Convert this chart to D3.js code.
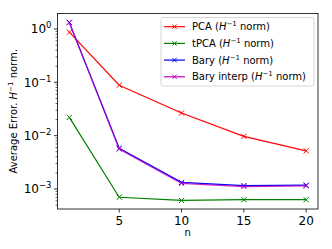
<!DOCTYPE html>
<html>
<head>
<meta charset="utf-8">
<script src="https://cdn.jsdelivr.net/npm/d3@7"></script>
<style>
body { margin: 0; background: #fff; }
svg { display: block; font-family: "DejaVu Sans", sans-serif; }
</style>
</head>
<body>
<svg id="chart" width="332" height="249"></svg>
<script>
var nVals = [1, 5, 10, 15, 20];
var pca = [0.87, 0.088, 0.0266, 0.0097, 0.0052];
var tpca = [0.022, 0.00070, 0.00061, 0.00063, 0.00063];
var bary = [1.33, 0.0058, 0.00133, 0.00116, 0.00118];
var baryInterp = [1.30, 0.0056, 0.00127, 0.00111, 0.00114];
var xTicks = [5, 10, 15, 20];
var yExps = [0, -1, -2, -3];
var seriesNames = ["PCA", "tPCA", "Bary", "Bary interp"];

var series = [
	{ name: seriesNames[0], vals: pca, color: "#ff0000", op: 1 },
	{ name: seriesNames[1], vals: tpca, color: "#008000", op: 1 },
	{ name: seriesNames[2], vals: bary, color: "#0000ff", op: 1 },
	{ name: seriesNames[3], vals: baryInterp, color: "#bf00bf", op: 0.85 },
];

var svg = d3.select("#chart");
var [ mT, mR, mB, mL ] = [ 13.5, 14, 40, 57.5 ];
var W = 332, H = 249;

var x = d3.scaleLinear([0.05, 20.95], [mL, W - mR]);
var y = d3.scaleLog([Math.pow(10, -3.375), Math.pow(10, 0.29)], [H - mB, mT]);

// minor ticks
var minors = [];
for (var e = -4; e <= 0; e++)
	for (var k = 2; k <= 9; k++) {
		var v = k * Math.pow(10, e);
		if (v >= y.domain()[0] && v <= y.domain()[1]) minors.push(v);
	}

var ax = svg.append("g");
ax.selectAll(".minor").data(minors).join("line")
	.attr("x1", mL - 2).attr("x2", mL)
	.attr("y1", d => y(d)).attr("y2", d => y(d))
	.attr("stroke", "#000").attr("stroke-width", 0.6);

ax.selectAll(".ymaj").data(yExps).join("line")
	.attr("x1", mL - 3.5).attr("x2", mL)
	.attr("y1", d => y(Math.pow(10, d))).attr("y2", d => y(Math.pow(10, d)))
	.attr("stroke", "#000").attr("stroke-width", 0.8);

var yl = ax.selectAll(".ylab").data(yExps).join("text")
	.attr("x", mL - 6).attr("y", d => y(Math.pow(10, d)) + 4.5)
	.attr("text-anchor", "end").attr("font-size", 12);
yl.append("tspan").text("10");
yl.append("tspan").attr("dy", -5).attr("font-size", 8.5).text(d => d === 0 ? "0" : "\u2212" + (-d));

ax.selectAll(".xmaj").data(xTicks).join("line")
	.attr("x1", d => x(d)).attr("x2", d => x(d))
	.attr("y1", H - mB).attr("y2", H - mB + 3.5)
	.attr("stroke", "#000").attr("stroke-width", 0.8);

ax.selectAll(".xlab").data(xTicks).join("text")
	.attr("x", d => x(d)).attr("y", H - mB + 16)
	.attr("text-anchor", "middle").attr("font-size", 12)
	.text(d => d);

svg.append("text").attr("x", (mL + W - mR) / 2).attr("y", H - 13)
	.attr("text-anchor", "middle").attr("font-size", 10).text("n");

var ylab = svg.append("text")
	.attr("transform", `translate(17, ${(mT + H - mB) / 2}) rotate(-90)`)
	.attr("text-anchor", "middle").attr("font-size", 10);
ylab.append("tspan").text("Average Error. ");
ylab.append("tspan").attr("font-style", "italic").text("H");
ylab.append("tspan").attr("dy", -4).attr("font-size", 7).text("\u22121");
ylab.append("tspan").attr("dy", 4).text(" norm.");

// lines
var line = d3.line().x((d, i) => x(nVals[i])).y(d => y(d));
var gl = svg.append("g");
series.forEach(s => {
	var g = gl.append("g").attr("opacity", s.op);
	g.append("path").attr("d", line(s.vals)).attr("fill", "none")
		.attr("stroke", s.color).attr("stroke-width", 1.2);
	g.selectAll("path.m").data(s.vals).join("path").attr("class", "m")
		.attr("d", (d, i) => {
			var cx = x(nVals[i]), cy = y(d), r = 2.6;
			return `M${cx-r},${cy-r}L${cx+r},${cy+r}M${cx-r},${cy+r}L${cx+r},${cy-r}`;
		})
		.attr("stroke", s.color).attr("stroke-width", 1);
});

// frame
svg.append("rect").attr("x", mL).attr("y", mT)
	.attr("width", W - mR - mL).attr("height", H - mB - mT)
	.attr("fill", "none").attr("stroke", "#000").attr("stroke-width", 0.8);

// legend
var lg = svg.append("g");
lg.append("rect").attr("x", 161).attr("y", 17.5).attr("width", 153).attr("height", 68.5)
	.attr("rx", 2).attr("fill", "#fff").attr("fill-opacity", 0.8)
	.attr("stroke", "#ccc").attr("stroke-width", 0.8);
series.forEach((s, i) => {
	var ly = 26.7 + i * 16.7;
	lg.append("line").attr("x1", 164).attr("x2", 185).attr("y1", ly).attr("y2", ly)
		.attr("stroke", s.color).attr("stroke-width", 1.2);
	lg.append("path").attr("d", `M${174.5-2.2},${ly-2.2}L${174.5+2.2},${ly+2.2}M${174.5-2.2},${ly+2.2}L${174.5+2.2},${ly-2.2}`)
		.attr("stroke", s.color).attr("stroke-width", 1);
	var t = lg.append("text").attr("x", 192).attr("y", ly + 3.6).attr("font-size", 10);
	t.append("tspan").text(s.name + " (");
	t.append("tspan").attr("font-style", "italic").text("H");
	t.append("tspan").attr("dy", -4).attr("font-size", 7).text("\u22121");
	t.append("tspan").attr("dy", 4).text(" norm)");
});
</script>
</body>
</html>
